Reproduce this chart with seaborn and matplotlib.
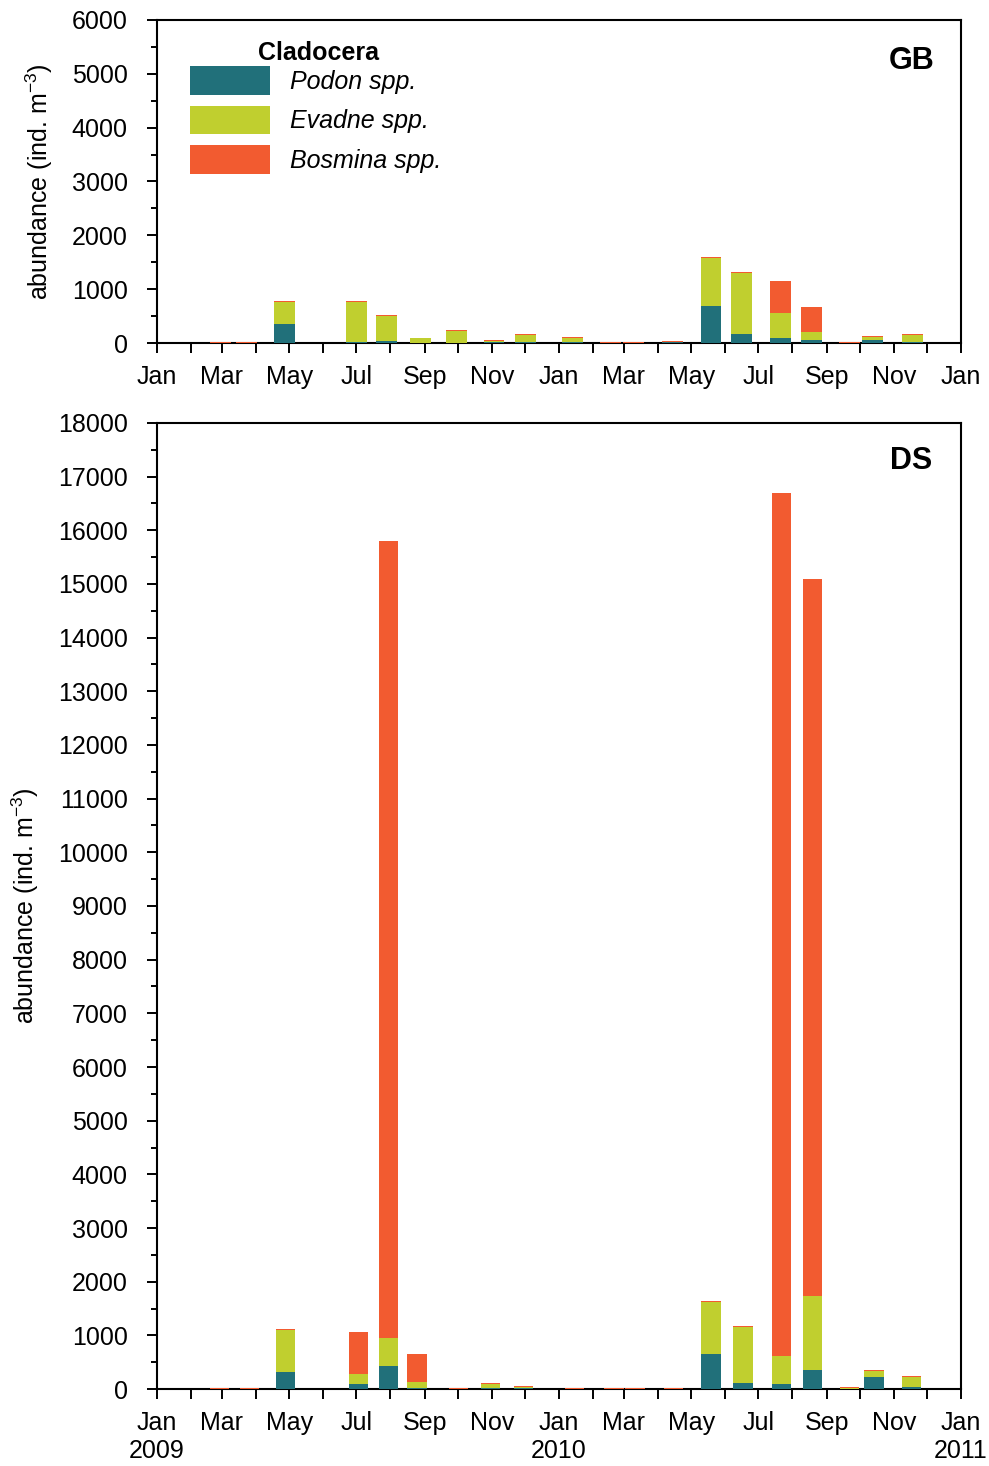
import numpy as np
import pandas as pd
import matplotlib
matplotlib.use("Agg")
import matplotlib.pyplot as plt
import matplotlib.dates as mdates
from matplotlib.ticker import MultipleLocator
import seaborn as sns

# ---- sampling dates and abundances (ind. m^-3) ----
gb_dates = ["2009-02-28", "2009-03-23", "2009-04-27", "2009-07-01", "2009-07-28",
            "2009-08-28", "2009-09-30", "2009-11-03", "2009-12-02", "2010-01-13",
            "2010-02-17", "2010-03-10", "2010-04-14", "2010-05-19", "2010-06-16",
            "2010-07-21", "2010-08-18", "2010-09-22", "2010-10-13", "2010-11-18"]
gb_podon = [0, 0, 345, 25, 43, 0, 0, 15, 20, 25, 0, 0, 20, 693, 173, 98, 61, 0, 61, 18]
gb_evadne = [0, 0, 410, 730, 451, 85, 215, 15, 130, 75, 0, 0, 0, 892, 1133, 465, 149, 0, 50, 135]
gb_bosmina = [20, 20, 20, 30, 18, 13, 18, 18, 18, 18, 15, 15, 10, 18, 18, 595, 464, 15, 18, 18]

ds_dates = ["2009-02-27", "2009-03-26", "2009-04-28", "2009-07-03", "2009-07-30",
            "2009-08-25", "2009-10-02", "2009-10-31", "2009-11-30", "2010-01-15",
            "2010-02-20", "2010-03-11", "2010-04-15", "2010-05-19", "2010-06-17",
            "2010-07-22", "2010-08-19", "2010-09-22", "2010-10-14", "2010-11-17"]
ds_podon = [0, 0, 310, 90, 438, 20, 0, 20, 15, 0, 0, 0, 0, 647, 108, 89, 350, 0, 220, 30]
ds_evadne = [0, 0, 795, 186, 522, 105, 0, 75, 15, 0, 0, 0, 0, 982, 1056, 522, 1392, 20, 125, 200]
ds_bosmina = [15, 15, 20, 795, 14848, 535, 15, 18, 18, 15, 15, 15, 15, 18, 18, 16078, 13345, 10, 18, 15]

taxa = ["Podon spp.", "Evadne spp.", "Bosmina spp."]
group_title = "Cladocera"
month_names = ["Jan", "Feb", "Mar", "Apr", "May", "Jun",
               "Jul", "Aug", "Sep", "Oct", "Nov", "Dec"]

PODON_C = "#21707a"
EVADNE_C = "#c0cf2f"
BOSMINA_C = "#f25b30"

sns.set_theme(style="ticks")
plt.rcParams["font.family"] = ["Liberation Sans", "DejaVu Sans"]
plt.rcParams["mathtext.default"] = "regular"
plt.rcParams["axes.edgecolor"] = "black"
plt.rcParams["xtick.color"] = "black"
plt.rcParams["ytick.color"] = "black"
plt.rcParams["text.color"] = "black"
plt.rcParams["axes.labelcolor"] = "black"

FS = 18

fig = plt.figure(figsize=(9.89, 14.66), dpi=100)
ax_gb = fig.add_axes([0.1587, 0.766, 0.813, 0.2204])
ax_ds = fig.add_axes([0.1587, 0.0525, 0.813, 0.659])


def stacked_bars(ax, dates, podon, evadne, bosmina, bar_days, with_labels):
    df = pd.DataFrame({
        "date": mdates.date2num(pd.to_datetime(dates)),
        "podon": podon,
        "evadne": evadne,
        "bosmina": bosmina,
    })
    df["pe"] = df["podon"] + df["evadne"]
    df["total"] = df["pe"] + df["bosmina"]
    gap = np.diff(np.sort(df["date"].unique())).min()
    layers = [("total", BOSMINA_C, taxa[2]),
              ("pe", EVADNE_C, taxa[1]),
              ("podon", PODON_C, taxa[0])]
    for col, color, name in layers:
        kw = {"label": name} if with_labels else {}
        sns.barplot(data=df, x="date", y=col, native_scale=True, orient="x",
                    color=color, saturation=1, width=bar_days / gap,
                    errorbar=None, linewidth=0, ax=ax, **kw)


def style_axis(ax, ymax, two_line):
    starts = pd.date_range("2009-01-01", "2011-01-01", freq="MS")
    ticks = mdates.date2num(starts)
    labels = []
    for d in starts:
        if d.month % 2 == 1:
            lab = month_names[d.month - 1]
            if two_line and d.month == 1:
                lab += f"\n{d.year}"
            labels.append(lab)
        else:
            labels.append("")
    ax.set_xticks(ticks)
    ax.set_xticklabels(labels, fontsize=FS, linespacing=1.2)
    ax.set_xlim(ticks[0], ticks[-1])
    ax.set_ylim(0, ymax)
    ax.yaxis.set_major_locator(MultipleLocator(1000))
    ax.yaxis.set_minor_locator(MultipleLocator(500))
    ax.tick_params(axis="y", which="major", direction="out", length=7,
                   width=1.4, labelsize=FS, pad=14)
    ax.tick_params(axis="y", which="minor", direction="out", length=4, width=1.4)
    ax.tick_params(axis="x", which="major", direction="out", length=7,
                   width=1.4, pad=9)
    for sp in ax.spines.values():
        sp.set_visible(True)
        sp.set_linewidth(1.5)
        sp.set_color("black")
        sp.set_zorder(0.5)
    ax.set_xlabel("")
    ax.set_ylabel(r"abundance (ind. m$^{-3}$)", fontsize=FS, labelpad=12)


stacked_bars(ax_gb, gb_dates, gb_podon, gb_evadne, gb_bosmina, 19, True)
stacked_bars(ax_ds, ds_dates, ds_podon, ds_evadne, ds_bosmina, 17.5, False)

style_axis(ax_gb, 6000, False)
style_axis(ax_ds, 18000, True)

handles, labs = ax_gb.get_legend_handles_labels()
order = [labs.index(t) for t in taxa]
leg = ax_gb.legend([handles[i] for i in order], [labs[i] for i in order],
                   loc="upper left", bbox_to_anchor=(0.041, 0.857),
                   frameon=False, fontsize=FS, borderaxespad=0,
                   borderpad=0, handlelength=3.2, handleheight=1.4,
                   handletextpad=0.8, labelspacing=0.42)
for t in leg.get_texts():
    t.set_fontstyle("italic")
ax_gb.text(0.2015, 0.898, group_title, transform=ax_gb.transAxes,
           fontsize=FS, fontweight="bold", ha="center", va="center")
if ax_ds.get_legend() is not None:
    ax_ds.get_legend().remove()

ax_gb.text(0.938, 0.872, "GB", transform=ax_gb.transAxes, fontsize=22,
           fontweight="bold", ha="center", va="center")
ax_ds.text(0.938, 0.961, "DS", transform=ax_ds.transAxes, fontsize=22,
           fontweight="bold", ha="center", va="center")

fig.savefig("out.png", dpi=100)
